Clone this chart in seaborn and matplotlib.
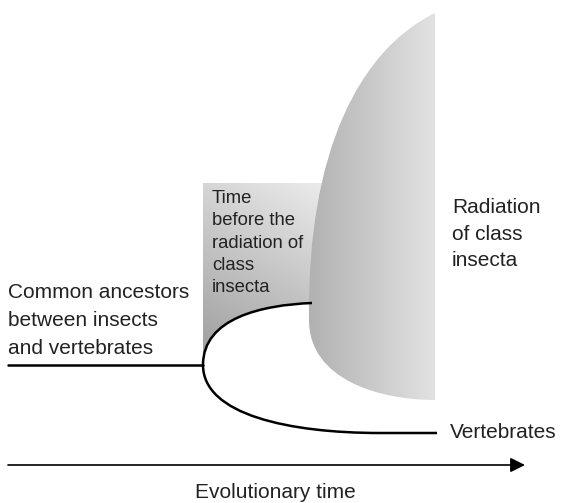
import numpy as np
import matplotlib
matplotlib.use("Agg")
import matplotlib.pyplot as plt
from matplotlib.path import Path
from matplotlib.patches import PathPatch
from matplotlib.colors import LinearSegmentedColormap
import seaborn as sns

# diagram geometry (pixel coordinates of the reference, y grows downward)
stem_x = [8, 203]
stem_y = [365, 365]
upper_branch = [(203, 365), (203, 318), (262, 305), (312, 303)]
lower_branch = [(203, 365), (203, 415), (290, 433), (380, 433), (437, 433)]
radiation_left = [(435, 13), (360, 50), (307, 150), (309, 320)]
radiation_bottom = [(309, 320), (309, 380), (380, 400), (435, 400)]
rect_box = [203, 183, 340, 365]  # x0, y0, x1, y1
arrow_x = [8, 525]
arrow_y = 465

labels = {
    "ancestors": "Common ancestors\nbetween insects\nand vertebrates",
    "before": "Time\nbefore the\nradiation of\nclass\ninsecta",
    "radiation": "Radiation\nof class\ninsecta",
    "vertebrates": "Vertebrates",
    "time": "Evolutionary time",
}

sns.set_theme(style="white")
plt.rcParams["font.family"] = ["Liberation Sans", "DejaVu Sans"]

fig = plt.figure(figsize=(5.63, 5.03), dpi=100)
ax = fig.add_axes([0, 0, 1, 1])
ax.set_xlim(0, 563)
ax.set_ylim(503, 0)
ax.axis("off")

box_cmap = LinearSegmentedColormap.from_list("box", ["#9c9c9c", "#eeeeee"])
rad_cmap = LinearSegmentedColormap.from_list("rad", ["#b0b0b0", "#e2e2e2"])

# gray box before the radiation (bounded below by the upper branch)
x0, y0, x1, y1 = rect_box
box_verts = [(x0, y0), (x1, y0), (x1, upper_branch[3][1])] + \
    [upper_branch[3], upper_branch[2], upper_branch[1], upper_branch[0], (x0, y0)]
box_codes = [Path.MOVETO, Path.LINETO, Path.LINETO, Path.LINETO,
             Path.CURVE4, Path.CURVE4, Path.CURVE4, Path.CLOSEPOLY]
box_patch = PathPatch(Path(box_verts, box_codes), facecolor="none", edgecolor="none")
ax.add_patch(box_patch)
gx, gy = np.meshgrid(np.linspace(0, 1, 100), np.linspace(0, 1, 100))
grad = 0.3 * gx + 0.7 * (1 - gy)
im = ax.imshow(grad, extent=[x0, x1, y1, y0], cmap=box_cmap, vmin=0, vmax=1,
               aspect="auto", zorder=1)
im.set_clip_path(box_patch)

# radiation of class insecta
rad_verts = radiation_left + radiation_bottom[1:] + [radiation_left[0], radiation_left[0]]
rad_codes = [Path.MOVETO, Path.CURVE4, Path.CURVE4, Path.CURVE4,
             Path.CURVE4, Path.CURVE4, Path.CURVE4, Path.LINETO, Path.CLOSEPOLY]
rad_patch = PathPatch(Path(rad_verts, rad_codes), facecolor="none", edgecolor="none", zorder=2)
ax.add_patch(rad_patch)
hgrad = np.tile(np.linspace(0, 1, 200), (10, 1))
im2 = ax.imshow(hgrad, extent=[305, 436, 401, 12], cmap=rad_cmap, vmin=0, vmax=1,
                aspect="auto", zorder=2)
im2.set_clip_path(rad_patch)

# stem and branches
sns.lineplot(x=stem_x, y=stem_y, color="black", lw=1.8, ax=ax, zorder=3)
up = PathPatch(Path(upper_branch, [Path.MOVETO, Path.CURVE4, Path.CURVE4, Path.CURVE4]),
               facecolor="none", edgecolor="black", lw=1.8, zorder=3)
low = PathPatch(Path(lower_branch, [Path.MOVETO, Path.CURVE4, Path.CURVE4, Path.CURVE4, Path.LINETO]),
                facecolor="none", edgecolor="black", lw=1.8, zorder=3)
ax.add_patch(up)
ax.add_patch(low)

# time arrow
ax.annotate("", xy=(arrow_x[1], arrow_y), xytext=(arrow_x[0], arrow_y),
            arrowprops=dict(arrowstyle="-|>", lw=1.2, color="black", mutation_scale=22,
                            shrinkA=0, shrinkB=0))

txt = dict(color="#222222", fontsize=15)
ax.text(8, 321, labels["ancestors"], va="center", ha="left", linespacing=1.6, **txt)
ax.text(212, 243, labels["before"], va="center", ha="left", linespacing=1.42,
        color="#222222", fontsize=13.3, zorder=4)
ax.text(452, 234, labels["radiation"], va="center", ha="left", linespacing=1.48, **txt)
ax.text(450, 432, labels["vertebrates"], va="center", ha="left", **txt)
ax.text(275, 493, labels["time"], va="center", ha="center", **txt)

fig.savefig("out.png", dpi=100)
